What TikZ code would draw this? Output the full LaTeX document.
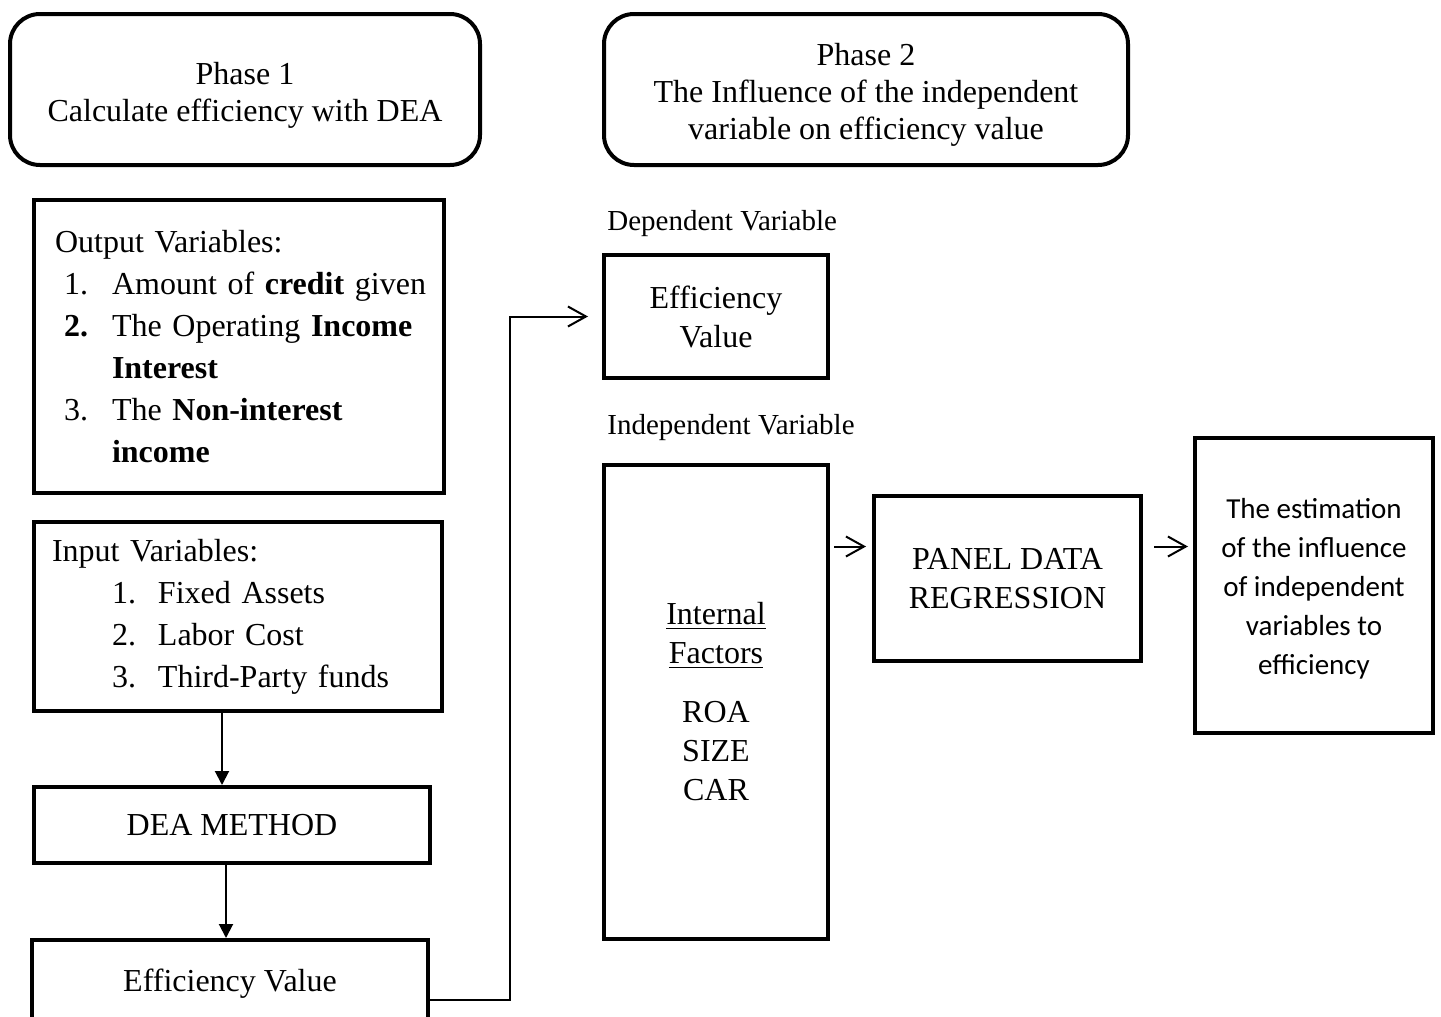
\documentclass[tikz,border=0pt]{standalone}
\usepackage{fontspec}
\setmainfont{Liberation Serif}
\newfontfamily\calibrifont{Carlito}
\usetikzlibrary{arrows.meta}
\tikzset{
  phase/.style={draw, line width=2pt, rounded corners=15pt, align=center, font=\fontsize{16}{18.5}\selectfont},
  blockbox/.style={draw, line width=2pt, align=center, font=\fontsize{16}{19.5}\selectfont},
  listbox/.style={draw, line width=2pt, align=left, font=\fontsize{16}{21}\selectfont},
  heading/.style={font=\fontsize{14.5}{17}\selectfont, inner sep=0pt},
  flow/.style={line width=1pt, -{Triangle[length=7pt,width=7pt]}},
  openflow/.style={line width=1pt, -{Straight Barb[length=9pt,width=10pt]}}
}
\begin{document}
\begin{tikzpicture}[x=0.5pt,y=-0.5pt]
\useasboundingbox (0,0) rectangle (1441,1017);
% phases
\node[phase, minimum width=235pt, minimum height=75.5pt] (ph1) at (245,89.5) {\rule{0pt}{17pt}Phase 1\\Calculate efficiency with DEA};
\node[phase, minimum width=262pt, minimum height=75.5pt] (ph2) at (866,89.5) {\rule{0pt}{16.5pt}Phase 2\\The Influence of the independent\\variable on efficiency value};

% phase 1 column
\node[listbox, text width=184pt, inner xsep=10.5pt, minimum height=146.5pt] (outp) at (239,346.5) {Output Variables:\\
  \mbox{\hspace*{4.5pt}\makebox[24pt][l]{1.}Amount of \textbf{credit} given}\\
  \hspace*{4.5pt}\makebox[24pt][l]{\textbf{2.}}The Operating \textbf{Income}\\
  \hspace*{28.5pt}\textbf{Interest}\\
  \hspace*{4.5pt}\makebox[24pt][l]{3.}The \textbf{Non-interest}\\
  \hspace*{28.5pt}\textbf{income}};
\node[listbox, text width=186pt, inner xsep=9pt, minimum height=94.5pt] (inp) at (238,616.5) {Input Variables:\\
  \hspace*{30pt}\makebox[23pt][l]{1.}Fixed Assets\\
  \hspace*{30pt}\makebox[23pt][l]{2.}Labor Cost\\
  \hspace*{30pt}\makebox[23pt][l]{3.}Third-Party funds};
\node[blockbox, minimum width=198pt, minimum height=38pt] (dea) at (232,825) {DEA METHOD};
\node[blockbox, minimum width=198pt, minimum height=44pt] (effl) at (230,984) {Efficiency Value};

% phase 2 column
\node[heading, anchor=west] (dephead) at (607,224) {Dependent Variable};
\node[blockbox, minimum width=112pt, minimum height=61.5pt] (effr) at (716,316.5) {Efficiency\\Value};
\node[heading, anchor=west] (indhead) at (607,428) {Independent Variable};
\node[blockbox, minimum width=112pt, minimum height=237pt] (intf) at (716,702) {\underline{Internal}\\\underline{Factors}\\[10pt]ROA\\SIZE\\CAR};
\node[blockbox, minimum width=133.5pt, minimum height=82.5pt] (panel) at (1007.5,578.5) {PANEL DATA\\REGRESSION};
\node[blockbox, minimum width=119pt, minimum height=147.5pt, font=\calibrifont\fontsize{14.5}{19.5}\selectfont] (est) at (1314,585.5) {\rule{0pt}{13pt}The estimation\\of the influence\\of independent\\variables to\\efficiency};

% connectors
\draw[flow] ([xshift=-8pt]inp.south) -- ([xshift=-8pt]inp.south |- dea.north);
\draw[flow] ([xshift=-3pt]dea.south) -- ([xshift=-3pt]dea.south |- effl.north);
\draw[openflow, shorten >=7pt] ([yshift=-8pt]effl.east) -| ([xshift=-46pt]effr.west) -- (effr.west);
\draw[openflow, shorten <=2pt, shorten >=3pt] ([yshift=16pt]panel.west -| intf.east) -- ([yshift=16pt]panel.west);
\draw[openflow, shorten <=5.5pt, shorten >=2.5pt] ([yshift=16pt]panel.east) -- ([yshift=16pt]panel.east -| est.west);
\end{tikzpicture}
\end{document}
